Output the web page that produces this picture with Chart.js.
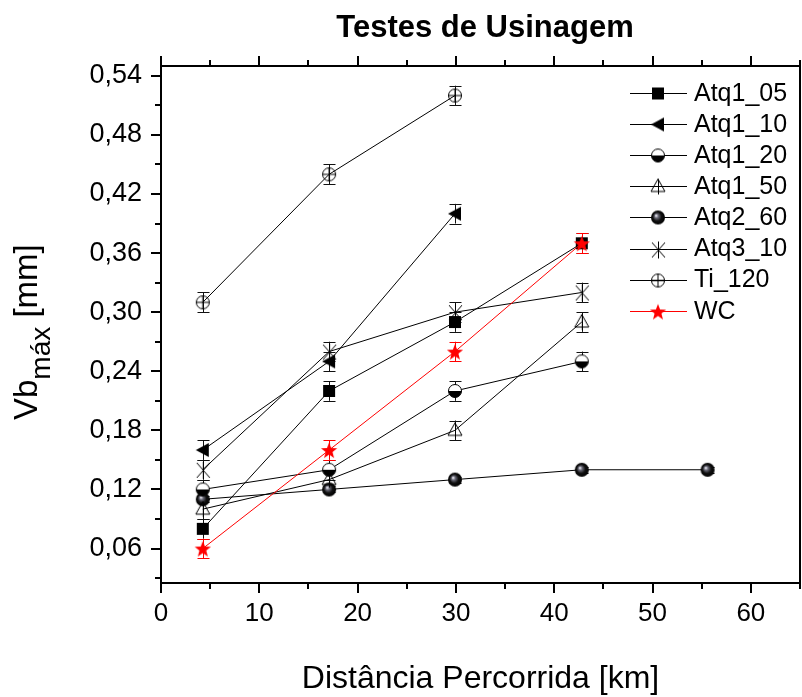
<!DOCTYPE html>
<html>
<head>
<meta charset="utf-8">
<script src="https://cdn.jsdelivr.net/npm/chart.js@4.4.1/dist/chart.umd.min.js"></script>
<style>
  html, body { margin: 0; padding: 0; background: #fff; }
  #wrap { width: 802px; height: 697px; position: relative; }
</style>
</head>
<body>
<div id="wrap"><canvas id="graficoUsinagem"></canvas></div>
<script>
// Distância percorrida (km) de cada ensaio
const distancia = [4.25, 17.1, 29.9, 42.8, 55.6];

// Vb máx (mm) por série
const atq1_05 = [0.08, 0.22, 0.29, 0.37];
const atq1_10 = [0.16, 0.25, 0.40];
const atq1_20 = [0.12, 0.14, 0.22, 0.25];
const atq1_50 = [0.10, 0.13, 0.18, 0.29];
const atq2_60 = [0.11, 0.12, 0.13, 0.14, 0.14];
const atq3_10 = [0.14, 0.26, 0.30, 0.32];
const ti_120  = [0.31, 0.44, 0.52];
const wc      = [0.06, 0.16, 0.26, 0.37];

// barras de erro (±)
const erroAtq1_05 = [0.01, 0.01, 0.01, 0.01];
const erroAtq1_10 = [0.01, 0.01, 0.01];
const erroAtq1_20 = [0.01, 0.01, 0.01, 0.01];
const erroAtq1_50 = [0.01, 0.01, 0.01, 0.01];
const erroAtq2_60 = [0.003, 0.003, 0.003, 0.003, 0.003];
const erroAtq3_10 = [0.01, 0.01, 0.01, 0.01];
const erroTi_120  = [0.01, 0.01, 0.01];
const erroWC      = [0.01, 0.01, 0.01, 0.01];

// ticks dos eixos
const xTicks = [0, 10, 20, 30, 40, 50, 60];
const xMenores = [5, 15, 25, 35, 45, 55, 65];
const yTicks = [0.06, 0.12, 0.18, 0.24, 0.30, 0.36, 0.42, 0.48, 0.54];
const yMenores = [0.03, 0.09, 0.15, 0.21, 0.27, 0.33, 0.39, 0.45, 0.51];

const FONTE = "'Liberation Sans', Arial, sans-serif";

// Marcadores desenhados em canvas
function marcador(tipo) {
    const s = 22, m = 11;
    const c = document.createElement('canvas');
    c.width = s; c.height = s;
    const g = c.getContext('2d');
    g.lineWidth = 1; g.strokeStyle = '#000'; g.fillStyle = '#000';
    switch (tipo) {
        case 'quadrado':
            g.fillRect(m - 6, m - 6, 12, 12);
            break;
        case 'trianguloEsq':
            g.beginPath();
            g.moveTo(m - 7, m); g.lineTo(m + 6, m - 7); g.lineTo(m + 6, m + 7);
            g.closePath(); g.fill();
            break;
        case 'meioCirculo':
            g.beginPath(); g.arc(m, m, 6.5, 0, Math.PI * 2);
            g.fillStyle = '#fff'; g.fill();
            g.beginPath(); g.arc(m, m, 6.5, 0, Math.PI); g.closePath();
            g.fillStyle = '#000'; g.fill();
            g.beginPath(); g.arc(m, m, 6.5, 0, Math.PI * 2); g.stroke();
            break;
        case 'trianguloAberto':
            g.beginPath();
            g.moveTo(m, m - 7.5); g.lineTo(m - 7, m + 5); g.lineTo(m + 7, m + 5);
            g.closePath(); g.stroke();
            g.beginPath(); g.moveTo(m + 0.5, m - 7.5); g.lineTo(m + 0.5, m + 8); g.stroke();
            break;
        case 'esfera': {
            const gr = g.createRadialGradient(m - 2, m - 2, 0.3, m, m, 7);
            gr.addColorStop(0, '#f0f0f8');
            gr.addColorStop(0.25, '#6a6a78');
            gr.addColorStop(0.6, '#111');
            gr.addColorStop(1, '#000');
            g.beginPath(); g.arc(m, m, 7, 0, Math.PI * 2);
            g.fillStyle = gr; g.fill();
            break;
        }
        case 'asterisco':
            g.beginPath();
            g.moveTo(m + 0.5, m - 8); g.lineTo(m + 0.5, m + 9);
            g.moveTo(m - 6, m - 7); g.lineTo(m + 7, m + 8);
            g.moveTo(m + 7, m - 7); g.lineTo(m - 6, m + 8);
            g.stroke();
            break;
        case 'circuloCruz':
            g.beginPath(); g.arc(m, m, 6.5, 0, Math.PI * 2); g.stroke();
            g.beginPath();
            g.moveTo(m - 6.5, m); g.lineTo(m + 6.5, m);
            g.moveTo(m, m - 6.5); g.lineTo(m, m + 6.5);
            g.stroke();
            break;
        case 'estrela': {
            g.beginPath();
            for (let i = 0; i < 10; i++) {
                const r = i % 2 === 0 ? 8.5 : 3.6;
                const a = -Math.PI / 2 + i * Math.PI / 5;
                const px = m + r * Math.cos(a), py = m + 1 + r * Math.sin(a);
                if (i === 0) g.moveTo(px, py); else g.lineTo(px, py);
            }
            g.closePath(); g.fillStyle = '#ff0000'; g.fill();
            break;
        }
    }
    return c;
}

function serie(nome, valores, erros, tipo, cor, ordem) {
    return {
        label: nome,
        data: valores.map((v, i) => ({ x: distancia[i], y: v })),
        erros: erros,
        borderColor: cor,
        borderWidth: 1,
        pointStyle: marcador(tipo),
        pointRadius: 8,
        pointHoverRadius: 8,
        tension: 0,
        fill: false,
        order: ordem || 0
    };
}

const datasets = [
    serie('Atq1_05', atq1_05, erroAtq1_05, 'quadrado', '#000'),
    serie('Atq1_10', atq1_10, erroAtq1_10, 'trianguloEsq', '#000'),
    serie('Atq1_20', atq1_20, erroAtq1_20, 'meioCirculo', '#000'),
    serie('Atq1_50', atq1_50, erroAtq1_50, 'trianguloAberto', '#000'),
    serie('Atq2_60', atq2_60, erroAtq2_60, 'esfera', '#000'),
    serie('Atq3_10', atq3_10, erroAtq3_10, 'asterisco', '#000'),
    serie('Ti_120', ti_120, erroTi_120, 'circuloCruz', '#000'),
    serie('WC', wc, erroWC, 'estrela', '#ff0000', -1)
];

// barras de erro
const barrasErro = {
    id: 'barrasErro',
    beforeDatasetsDraw(chart) {
        const ctx = chart.ctx, xs = chart.scales.x, ys = chart.scales.y;
        ctx.save();
        ctx.lineWidth = 1;
        chart.data.datasets.forEach(ds => {
            ctx.strokeStyle = ds.borderColor === '#000' ? '#111' : ds.borderColor;
            ds.data.forEach((p, i) => {
                const e = ds.erros[i];
                const px = Math.round(xs.getPixelForValue(p.x)) + 0.5;
                const y1 = ys.getPixelForValue(p.y + e);
                const y2 = ys.getPixelForValue(p.y - e);
                ctx.beginPath();
                ctx.moveTo(px, y1); ctx.lineTo(px, y2);
                ctx.moveTo(px - 6, Math.round(y1) + 0.5); ctx.lineTo(px + 6, Math.round(y1) + 0.5);
                ctx.moveTo(px - 6, Math.round(y2) + 0.5); ctx.lineTo(px + 6, Math.round(y2) + 0.5);
                ctx.stroke();
            });
        });
        ctx.restore();
    }
};

// moldura, ticks, títulos e legenda
const decoracao = {
    id: 'decoracao',
    afterDraw(chart) {
        const ctx = chart.ctx, a = chart.chartArea;
        const xs = chart.scales.x, ys = chart.scales.y;
        ctx.save();
        ctx.strokeStyle = '#000';
        ctx.lineWidth = 2;
        ctx.beginPath();
        ctx.moveTo(a.left, a.top); ctx.lineTo(a.right, a.top); ctx.lineTo(a.right, a.bottom);
        xTicks.forEach(v => {
            const px = Math.round(xs.getPixelForValue(v));
            ctx.moveTo(px, a.bottom); ctx.lineTo(px, a.bottom + 10);
            ctx.moveTo(px, a.top); ctx.lineTo(px, a.top - 10);
        });
        xMenores.forEach(v => {
            const px = Math.round(xs.getPixelForValue(v));
            ctx.moveTo(px, a.bottom); ctx.lineTo(px, a.bottom + 6);
            ctx.moveTo(px, a.top); ctx.lineTo(px, a.top - 6);
        });
        yTicks.forEach(v => {
            const py = Math.round(ys.getPixelForValue(v));
            ctx.moveTo(a.left, py); ctx.lineTo(a.left - 10, py);
        });
        yMenores.forEach(v => {
            const py = Math.round(ys.getPixelForValue(v));
            ctx.moveTo(a.left, py); ctx.lineTo(a.left - 6, py);
        });
        ctx.stroke();

        // título
        ctx.fillStyle = '#000';
        ctx.textAlign = 'center';
        ctx.textBaseline = 'alphabetic';
        ctx.font = 'bold 31px ' + FONTE;
        ctx.fillText('Testes de Usinagem', 485, 37);

        // título eixo x
        ctx.font = '32px ' + FONTE;
        ctx.fillText('Distância Percorrida [km]', (a.left + a.right) / 2, 688);

        // título eixo y com subscrito
        ctx.save();
        ctx.translate(37, 420);
        ctx.rotate(-Math.PI / 2);
        ctx.textAlign = 'left';
        ctx.font = '33px ' + FONTE;
        ctx.fillText('Vb', 0, 0);
        let w = ctx.measureText('Vb').width;
        ctx.font = '28px ' + FONTE;
        ctx.fillText('máx', w, 13);
        w += ctx.measureText('máx').width;
        ctx.font = '33px ' + FONTE;
        ctx.fillText(' [mm]', w, 0);
        ctx.restore();

        // legenda
        ctx.font = '25px ' + FONTE;
        ctx.textAlign = 'left';
        ctx.textBaseline = 'middle';
        chart.data.datasets.forEach((ds, i) => {
            const y = 93 + i * 31.1;
            ctx.strokeStyle = ds.borderColor;
            ctx.lineWidth = 1;
            ctx.beginPath();
            ctx.moveTo(630, Math.round(y) + 0.5); ctx.lineTo(687, Math.round(y) + 0.5);
            ctx.stroke();
            const img = ds.pointStyle;
            ctx.drawImage(img, 658 - img.width / 2, Math.round(y) - img.height / 2 + 0.5);
            ctx.fillStyle = '#000';
            ctx.fillText(ds.label, 694, y + 1);
        });
        ctx.restore();
    }
};

document.addEventListener('DOMContentLoaded', function() {
    const ctx = document.getElementById('graficoUsinagem').getContext('2d');
    Chart.defaults.font.family = FONTE;
    Chart.defaults.color = '#000';
    new Chart(ctx, {
        type: 'line',
        data: { datasets: datasets },
        options: {
            responsive: true,
            maintainAspectRatio: false,
            animation: false,
            layout: { autoPadding: false, padding: { top: 66, right: 2, left: 0, bottom: 0 } },
            plugins: {
                legend: { display: false },
                tooltip: { enabled: false },
                title: { display: false }
            },
            scales: {
                x: {
                    type: 'linear',
                    min: 0,
                    max: 65,
                    grid: { display: false, drawTicks: false },
                    border: { display: true, color: '#000', width: 2 },
                    afterBuildTicks: s => { s.ticks = xTicks.map(v => ({ value: v })); },
                    afterFit: s => {
                        s.height = 114;
                        s.paddingLeft = 0;
                        s.paddingRight = 0;
                    },
                    ticks: {
                        font: { size: 26 },
                        padding: 15,
                        maxRotation: 0,
                        callback: v => String(v)
                    }
                },
                y: {
                    type: 'linear',
                    min: 0.025,
                    max: 0.55,
                    grid: { display: false, drawTicks: false },
                    border: { display: true, color: '#000', width: 2 },
                    afterBuildTicks: s => { s.ticks = yTicks.map(v => ({ value: v })); },
                    afterFit: s => {
                        s.width = 161;
                        s.paddingTop = 0;
                        s.paddingBottom = 0;
                    },
                    ticks: {
                        font: { size: 27 },
                        padding: 19,
                        callback: v => v.toFixed(2).replace('.', ',')
                    }
                }
            }
        },
        plugins: [barrasErro, decoracao]
    });
});
</script>
</body>
</html>
